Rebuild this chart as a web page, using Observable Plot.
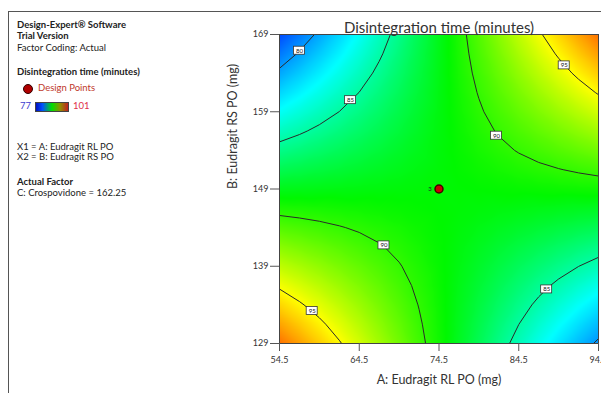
<!DOCTYPE html>
<html><head><meta charset="utf-8">
<script src="https://cdn.jsdelivr.net/npm/d3@7"></script>
<script src="https://cdn.jsdelivr.net/npm/@observablehq/plot@0.6"></script>
<style>
body{margin:0;background:#fff;}
#wrap{position:relative;width:601px;height:393px;overflow:hidden;font-family:Lato,"Open Sans",sans-serif;color:#222;}
#chart{position:absolute;left:0;top:0;}
#border{position:absolute;left:8px;top:11px;width:800px;height:600px;border-left:1px solid #555;border-top:1px solid #555;pointer-events:none;}
.t{position:absolute;left:17px;font-size:9.5px;line-height:12px;white-space:nowrap;}
.b{font-weight:bold;}
</style></head>
<body><div id="wrap"><div id="chart"></div><div id="border"></div><div id="panel"></div></div>
<script>
const aValues = [54.5, 57, 59.5, 62, 64.5, 67, 69.5, 72, 74.5, 77, 79.5, 82, 84.5, 87, 89.5, 92, 94.5]; // A: Eudragit RL PO (mg)
const bValues = [129, 131.5, 134, 136.5, 139, 141.5, 144, 146.5, 149, 151.5, 154, 156.5, 159, 161.5, 164, 166.5, 169]; // B: Eudragit RS PO (mg)
// Disintegration time (minutes): rows = B (129 -> 169), columns = A (54.5 -> 94.5)
const timeGrid = [
  [98.70, 97.51, 96.33, 95.14, 93.95, 92.76, 91.58, 90.39, 89.20, 88.01, 86.83, 85.64, 84.45, 83.26, 82.08, 80.89, 79.70],
  [97.39, 96.36, 95.33, 94.29, 93.26, 92.23, 91.20, 90.17, 89.14, 88.11, 87.08, 86.04, 85.01, 83.98, 82.95, 81.92, 80.89],
  [96.08, 95.20, 94.33, 93.45, 92.58, 91.70, 90.83, 89.95, 89.08, 88.20, 87.33, 86.45, 85.58, 84.70, 83.83, 82.95, 82.08],
  [94.76, 94.04, 93.33, 92.61, 91.89, 91.17, 90.45, 89.73, 89.01, 88.29, 87.58, 86.86, 86.14, 85.42, 84.70, 83.98, 83.26],
  [93.45, 92.89, 92.33, 91.76, 91.20, 90.64, 90.08, 89.51, 88.95, 88.39, 87.83, 87.26, 86.70, 86.14, 85.58, 85.01, 84.45],
  [92.14, 91.73, 91.33, 90.92, 90.51, 90.11, 89.70, 89.29, 88.89, 88.48, 88.08, 87.67, 87.26, 86.86, 86.45, 86.04, 85.64],
  [90.83, 90.58, 90.33, 90.08, 89.83, 89.58, 89.33, 89.08, 88.83, 88.58, 88.33, 88.08, 87.83, 87.58, 87.33, 87.08, 86.83],
  [89.51, 89.42, 89.33, 89.23, 89.14, 89.04, 88.95, 88.86, 88.76, 88.67, 88.58, 88.48, 88.39, 88.29, 88.20, 88.11, 88.01],
  [88.20, 88.26, 88.33, 88.39, 88.45, 88.51, 88.58, 88.64, 88.70, 88.76, 88.83, 88.89, 88.95, 89.01, 89.08, 89.14, 89.20],
  [86.89, 87.11, 87.33, 87.54, 87.76, 87.98, 88.20, 88.42, 88.64, 88.86, 89.08, 89.29, 89.51, 89.73, 89.95, 90.17, 90.39],
  [85.58, 85.95, 86.33, 86.70, 87.08, 87.45, 87.83, 88.20, 88.58, 88.95, 89.33, 89.70, 90.08, 90.45, 90.83, 91.20, 91.58],
  [84.26, 84.79, 85.33, 85.86, 86.39, 86.92, 87.45, 87.98, 88.51, 89.04, 89.58, 90.11, 90.64, 91.17, 91.70, 92.23, 92.76],
  [82.95, 83.64, 84.33, 85.01, 85.70, 86.39, 87.08, 87.76, 88.45, 89.14, 89.83, 90.51, 91.20, 91.89, 92.58, 93.26, 93.95],
  [81.64, 82.48, 83.33, 84.17, 85.01, 85.86, 86.70, 87.54, 88.39, 89.23, 90.08, 90.92, 91.76, 92.61, 93.45, 94.29, 95.14],
  [80.33, 81.33, 82.33, 83.33, 84.33, 85.33, 86.33, 87.33, 88.33, 89.33, 90.33, 91.33, 92.33, 93.33, 94.33, 95.33, 96.33],
  [79.01, 80.17, 81.33, 82.48, 83.64, 84.79, 85.95, 87.11, 88.26, 89.42, 90.58, 91.73, 92.89, 94.04, 95.20, 96.36, 97.51],
  [77.70, 79.01, 80.33, 81.64, 82.95, 84.26, 85.58, 86.89, 88.20, 89.51, 90.83, 92.14, 93.45, 94.76, 96.08, 97.39, 98.70]
];
const contourLevels = [80, 85, 90, 95];
const xTicks = [54.5, 64.5, 74.5, 84.5, 94.5];
const yTicks = [129, 139, 149, 159, 169];
const colorStops = [77, 82.8, 88.8, 95, 101];
const colorRange = ["#0030ff", "#00ffff", "#00f800", "#ffff00", "#ff1800"];
// Contour labels
const labelA = [57.0, 63.4, 90.2, 81.7, 67.6, 88.0, 58.6];
const labelB = [166.9, 160.5, 165.0, 155.9, 141.7, 136.0, 133.2];
const labelText = ["80", "85", "95", "90", "90", "85", "95"];
// Design point (centre point, 3 runs)
const designA = [74.5];
const designB = [149];
const designRuns = ["3"];

const nA = aValues.length, nB = bValues.length;
const grid = bValues.flatMap((b, i) => aValues.map((a, j) => ({A: a, B: b, z: timeGrid[i][j]})));
const flat = timeGrid.flat();
const halfA = (aValues[1] - aValues[0]) / 2, halfB = (bValues[1] - bValues[0]) / 2;
const labels = labelA.map((a, i) => ({A: a, B: labelB[i], t: labelText[i]}));
const design = designA.map((a, i) => ({A: a, B: designB[i], n: designRuns[i]}));

const chart = Plot.plot({
  width: 601, height: 393,
  marginLeft: 279, marginRight: 3, marginTop: 34, marginBottom: 50,
  style: {fontFamily: "Lato, 'Open Sans', sans-serif", background: "transparent", color: "#333"},
  x: {domain: [xTicks[0], xTicks[xTicks.length - 1]]},
  y: {domain: [yTicks[0], yTicks[yTicks.length - 1]]},
  color: {type: "linear", domain: colorStops, range: colorRange},
  marks: [
    Plot.raster(grid, {x: "A", y: "B", fill: "z", interpolate: "barycentric", pixelSize: 1}),
    Plot.contour(flat, {
      width: nA, height: nB,
      x1: aValues[0] - halfA, x2: aValues[nA - 1] + halfA,
      y1: bValues[0] - halfB, y2: bValues[nB - 1] + halfB,
      thresholds: contourLevels, fill: "none", stroke: "#2a2a2a", strokeWidth: 1, clip: true
    }),
    Plot.frame({stroke: "#444"}),
    Plot.axisX({ticks: xTicks, tickFormat: d => d.toFixed(1), tickSize: 8, tickPadding: 5, fontSize: 9, label: null, stroke: "#555"}),
    Plot.axisY({ticks: yTicks, tickFormat: d => String(d), tickSize: 9, tickPadding: 2, fontSize: 9, label: null, stroke: "#555"}),
    Plot.rect(labels, {x1: "A", x2: "A", y1: "B", y2: "B", insetLeft: -5.5, insetRight: -5.5, insetTop: -4, insetBottom: -4, fill: "white", stroke: "#333", strokeWidth: 0.8}),
    Plot.text(labels, {x: "A", y: "B", text: "t", fontSize: 6, fill: "#111"}),
    Plot.dot(design, {x: "A", y: "B", r: 4, fill: "#c80000", stroke: "#400"}),
    Plot.text(design, {x: "A", y: "B", text: "n", dx: -9, fontSize: 6, fill: "#222"}),
    Plot.text(["Disintegration time (minutes)"], {frameAnchor: "top", dy: -12, fontSize: 15, fill: "#333"}),
    Plot.text(["A: Eudragit RL PO (mg)"], {frameAnchor: "bottom", dy: 40, fontSize: 12.5, fill: "#333"}),
    Plot.text(["B: Eudragit RS PO (mg)"], {frameAnchor: "left", dx: -47, rotate: -90, fontSize: 12.5, fill: "#333"})
  ]
});
document.getElementById("chart").appendChild(chart);

const panel = document.getElementById("panel");
const lines = [
  ["Design-Expert® Software", 25, true],
  ["Trial Version", 36, true],
  ["Factor Coding: Actual", 48, false],
  ["Disintegration time (minutes)", 72, true],
  ["X1 = A: Eudragit RL PO", 146.5, false],
  ["X2 = B: Eudragit RS PO", 157, false],
  ["Actual Factor", 181.5, true],
  ["C: Crospovidone = 162.25", 192.5, false]
];
for (const [txt, cy, bold] of lines) {
  const d = document.createElement("div");
  d.className = "t" + (bold ? " b" : "");
  d.style.top = (cy - 6) + "px";
  d.textContent = txt;
  panel.appendChild(d);
}
panel.insertAdjacentHTML("beforeend", `
<div style="position:absolute;left:23px;top:84px;width:8px;height:8px;border-radius:50%;background:#b00000;border:0.5px solid #300;"></div>
<div class="t" style="left:38px;top:82px;color:#c0392b;">Design Points</div>
<div class="t" style="left:20px;top:100px;color:#3c3cd0;">77</div>
<div style="position:absolute;left:35px;top:102px;width:32px;height:8px;border:0.5px solid #444;background:linear-gradient(to right,#0010c0,#0050ff 20%,#00e000 50%,#909000 75%,#c02020);"></div>
<div class="t" style="left:73px;top:100px;color:#e0304a;">101</div>
`);
</script>
</body></html>
